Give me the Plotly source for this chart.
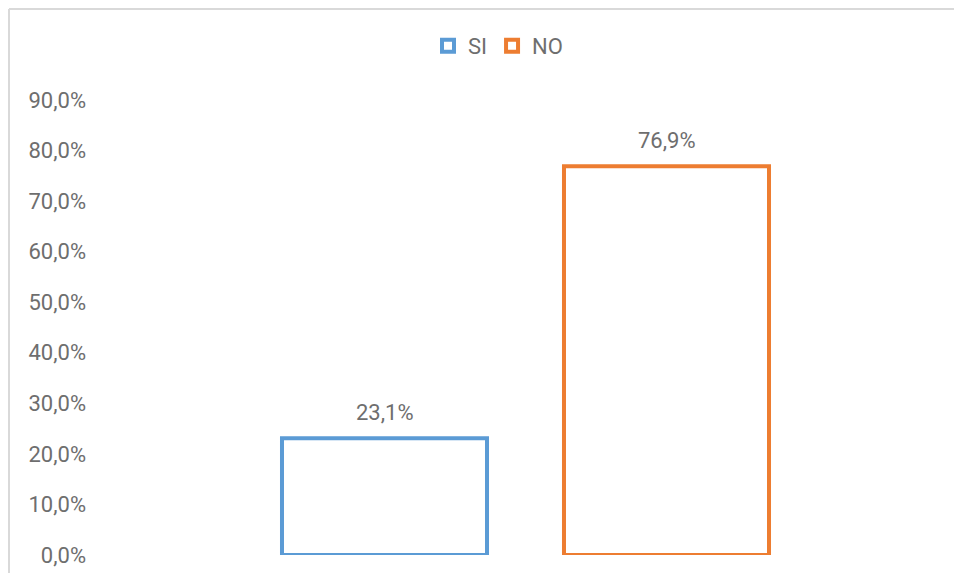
import plotly.graph_objs as go

BLUE   = 'rgba(91, 155, 213, 1.0)'
ORANGE = 'rgba(237, 125, 49, 1.0)'
GREY   = 'rgba(110, 110, 110, 1.0)'
BORDER = 'rgba(217, 217, 217, 1.0)'

series = ['SI', 'NO']
values = [0.231, 0.769]
positions = [0, 1]
colors = [BLUE, ORANGE]

y_ticks = [0.0, 0.1, 0.2, 0.3, 0.4, 0.5, 0.6, 0.7, 0.8, 0.9]

# figure size leaves room for the 8px body margin of the page
W, H = 946, 565
left, right, top, bottom = 87, 0, 92, 18
pw = W - left - right
ph = H - top - bottom

font = dict(family='Roboto', size=22, color=GREY)

fig = go.Figure()
for name, x, v, c in zip(series, positions, values, colors):
    fig.add_trace(go.Bar(
        x=[x], y=[v], name=name, width=0.727,
        marker=dict(color='rgba(255,255,255,0)', line=dict(color=c, width=4)),
        hoverinfo='name+y',
    ))
    fig.add_annotation(x=x, y=v, text=f'{v * 100:.1f}%'.replace('.', ','),
                       showarrow=False, yanchor='middle', yshift=26, font=font)

# light chart border (top and left edges visible)
bx = (1 - left) / pw
by = (H - bottom - 1) / ph
fig.add_shape(type='line', xref='paper', yref='paper', x0=bx, x1=1.1, y0=by, y1=by,
              line=dict(color=BORDER, width=2))
fig.add_shape(type='line', xref='paper', yref='paper', x0=bx, x1=bx, y0=by, y1=-0.2,
              line=dict(color=BORDER, width=2))

fig.update_layout(
    width=W, height=H,
    margin=dict(l=left, r=right, t=top, b=bottom, autoexpand=False),
    paper_bgcolor='white', plot_bgcolor='white',
    separators=',.',
    font=font,
    showlegend=True,
    legend=dict(orientation='h', x=(490 - left) / pw, xanchor='center',
                y=(H - bottom - 38) / ph, yanchor='middle',
                font=font, itemwidth=30, traceorder='normal'),
    xaxis=dict(range=[-1.0266, 2.0195], showticklabels=False, showgrid=False,
               zeroline=False, showline=False, fixedrange=True),
    yaxis=dict(range=[0, 0.9], tickvals=y_ticks, tickformat='.1%', showgrid=False,
               zeroline=False, showline=False, ticks='', ticklabelstandoff=8,
               tickfont=font),
)

fig.write_html('out.html')
